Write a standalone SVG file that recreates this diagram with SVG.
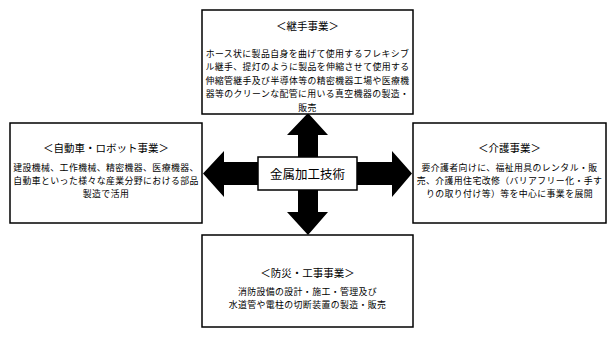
<svg xmlns="http://www.w3.org/2000/svg" width="616" height="348" viewBox="0 0 616 348">
<style>
.box{fill:#fff;stroke:#000;stroke-width:1.5}
.t{font-family:"Noto Sans CJK JP","Noto Sans CJK SC",sans-serif;font-size:8.9px;letter-spacing:0.4px;fill:#000;text-anchor:middle;dominant-baseline:central}
.h{font-size:10.5px;letter-spacing:0}
.c{font-size:12.5px;letter-spacing:0}
.arr{fill:#000;stroke:none}
</style>
<rect width="616" height="348" fill="#fff"/>
<g id="connectors">
<polygon class="arr" points="308,113 328,135 318,135 318,162 298,162 298,135 287,135"/>
<polygon class="arr" points="308,235 328,212 318,212 318,185 298,185 298,212 287,212"/>
<polygon class="arr" points="203,173.5 224,151 224,162 298,162 298,185 224,185 224,197"/>
<polygon class="arr" points="412,173.5 392,151 392,162 318,162 318,185 392,185 392,197"/>
<rect class="arr" x="298" y="160" width="20" height="27"/>
</g>
<g id="top">
<rect class="box" x="202" y="10" width="211" height="104"/>
<text class="t h" x="307.5" y="25">＜継手事業＞</text>
<text class="t" x="307.5" y="53">ホース状に製品自身を曲げて使用するフレキシブ</text>
<text class="t" x="307.5" y="66.5">ル継手、提灯のように製品を伸縮させて使用する</text>
<text class="t" x="307.5" y="80">伸縮管継手及び半導体等の精密機器工場や医療機</text>
<text class="t" x="307.5" y="93.5">器等のクリーンな配管に用いる真空機器の製造・</text>
<text class="t" x="307.5" y="107">販売</text>
</g>
<g id="left">
<rect class="box" x="10" y="123" width="192" height="100"/>
<text class="t h" x="106" y="147">＜自動車・ロボット事業＞</text>
<text class="t" x="106" y="167.5">建設機械、工作機械、精密機器、医療機器、</text>
<text class="t" x="106" y="180.5">自動車といった様々な産業分野における部品</text>
<text class="t" x="106" y="193.5">製造で活用</text>
</g>
<g id="right">
<rect class="box" x="413" y="123" width="193" height="100"/>
<text class="t h" x="509.5" y="147">＜介護事業＞</text>
<text class="t" x="509.5" y="167.5">要介護者向けに、福祉用具のレンタル・販</text>
<text class="t" x="509.5" y="180.5">売、介護用住宅改修（バリアフリー化・手す</text>
<text class="t" x="509.5" y="193.5">りの取り付け等）等を中心に事業を展開</text>
</g>
<g id="bottom">
<rect class="box" x="202" y="235" width="211" height="92"/>
<text class="t h" x="307.5" y="272">＜防災・工事事業＞</text>
<text class="t" x="307.5" y="291">消防設備の設計・施工・管理及び</text>
<text class="t" x="307.5" y="304">水道管や電柱の切断装置の製造・販売</text>
</g>
<g id="center">
<rect class="box" x="258" y="157" width="99" height="33"/>
<text class="t c" x="307.5" y="173.5">金属加工技術</text>
</g>
</svg>
